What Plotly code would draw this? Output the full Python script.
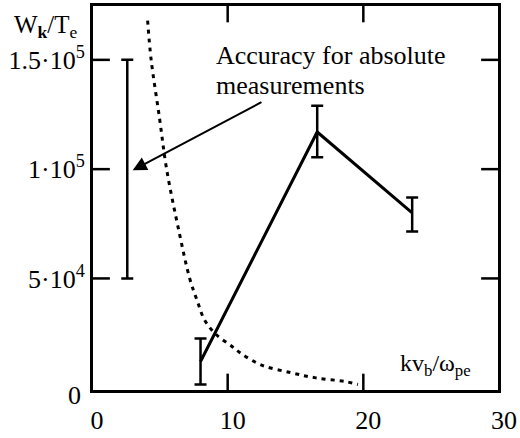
import plotly.graph_objects as go

# Measured points (kv_b/omega_pe, W_k/T_e) with error bars
meas_x = [8.0, 16.6, 23.6]
meas_y = [12000, 117000, 80000]
meas_err_plus = [10500, 12000, 7000]
meas_err_minus = [10500, 11500, 8500]

# Accuracy bar for absolute measurements
acc_x = [2.6]
acc_y = [100000]
acc_err = [50000]

# Dotted theoretical curve
curve_x = [4.1, 4.36, 4.97, 5.5, 6.44, 7.2, 7.75, 8.3, 9.13, 10.3, 11.0, 12.5, 14.7, 16.5, 18.65, 19.6]
curve_y = [168000, 150000, 123600, 100000, 70700, 50000, 39900, 31000, 24450, 19000, 15640, 10350, 6830, 4500, 2860, 1500]

x_ticks = [0, 10, 20, 30]
x_ticklabels = ["0", "10", "20", "30"]
y_ticks = [0, 50000, 100000, 150000]
y_ticklabels = ["", "5·10<sup>4</sup>", "1·10<sup>5</sup>", "1.5·10<sup>5</sup>"]
y_zero_label = "0"

X_RANGE = [0, 30]
Y_RANGE = [-1500, 175100]

FONT = "Liberation Serif"
W, H = 520, 438
M = dict(l=92, r=18, t=3, b=34)
TICK_PX = 18

plot_w = W - M["l"] - M["r"]
plot_h = H - M["t"] - M["b"]
dx = TICK_PX * (X_RANGE[1] - X_RANGE[0]) / plot_w
dy = TICK_PX * (Y_RANGE[1] - Y_RANGE[0]) / plot_h

fig = go.Figure()

fig.add_trace(go.Scatter(
    x=curve_x, y=curve_y, mode="lines", line_shape="spline",
    line=dict(color="black", width=3, dash="4px,5px"), hoverinfo="skip"))

fig.add_trace(go.Scatter(
    x=meas_x, y=meas_y, mode="lines",
    line=dict(color="black", width=3),
    error_y=dict(type="data", symmetric=False, array=meas_err_plus,
                 arrayminus=meas_err_minus, color="black", thickness=2.5, width=6)))

fig.add_trace(go.Scatter(
    x=acc_x, y=acc_y, mode="markers", marker=dict(size=1, color="rgba(0,0,0,0)"),
    error_y=dict(type="data", array=acc_err, color="black", thickness=2.5, width=6)))

# Frame and inside tick marks on all four sides, built from the axis ranges/ticks
fx = [X_RANGE[0], X_RANGE[1], X_RANGE[1], X_RANGE[0], X_RANGE[0]]
fy = [Y_RANGE[0], Y_RANGE[0], Y_RANGE[1], Y_RANGE[1], Y_RANGE[0]]
fig.add_trace(go.Scatter(x=fx, y=fy, mode="lines", line=dict(color="black", width=2),
                         cliponaxis=False, hoverinfo="skip"))
tx, ty = [], []
for xv in x_ticks:
    if X_RANGE[0] < xv < X_RANGE[1]:
        tx += [xv, xv, None, xv, xv, None]
        ty += [Y_RANGE[0], Y_RANGE[0] + dy, None, Y_RANGE[1], Y_RANGE[1] - dy, None]
for yv in y_ticks:
    if 0 < yv < Y_RANGE[1]:
        tx += [X_RANGE[0], X_RANGE[0] + dx, None, X_RANGE[1], X_RANGE[1] - dx, None]
        ty += [yv, yv, None, yv, yv, None]
fig.add_trace(go.Scatter(x=tx, y=ty, mode="lines", line=dict(color="black", width=2.5),
                         cliponaxis=False, hoverinfo="skip"))

# Arrow
fig.add_annotation(x=3.0, y=99500, ax=12.6, ay=131000, xref="x", yref="y",
                   axref="x", ayref="y", text="", showarrow=True,
                   arrowhead=2, arrowsize=1.4, arrowwidth=2, arrowcolor="black")
fig.add_annotation(x=9.0, y=152200, xref="x", yref="y", text="Accuracy for absolute",
                   showarrow=False, xanchor="left", yanchor="middle",
                   font=dict(family=FONT, size=26, color="black"))
fig.add_annotation(x=9.0, y=138100, xref="x", yref="y", text="measurements",
                   showarrow=False, xanchor="left", yanchor="middle",
                   font=dict(family=FONT, size=26, color="black"))
# Axis titles
fig.add_annotation(x=25.3, y=10300, xref="x", yref="y",
                   text="kv<sub>b</sub>/ω<sub>pe</sub>", showarrow=False,
                   font=dict(family=FONT, size=24, color="black"))
fig.add_annotation(x=(46 - 92) / 410, y=1 - (25 - 3) / 401, xref="paper", yref="paper",
                   text="W<sub><b>k</b></sub>/T<sub>e</sub>", showarrow=False,
                   xanchor="center", yanchor="middle",
                   font=dict(family=FONT, size=25, color="black"))
# Y zero label, sitting slightly low as in the original
fig.add_annotation(x=0, y=0, xref="paper", yref="y", text=y_zero_label,
                   showarrow=False, xanchor="right", yanchor="middle",
                   xshift=-9, yshift=-8,
                   font=dict(family=FONT, size=26, color="black"))

axis_common = dict(showline=True, linecolor="black", linewidth=2, mirror=True,
                   ticks="", showgrid=False, zeroline=False, layer="above traces",
                   tickfont=dict(family=FONT, size=26, color="black"))

fig.update_layout(
    width=W, height=H,
    margin=M,
    paper_bgcolor="white", plot_bgcolor="white",
    showlegend=False,
    dragmode=False,
    font=dict(family=FONT, color="black"),
    xaxis=dict(range=X_RANGE, tickvals=x_ticks, ticktext=x_ticklabels,
               ticklabelshift=5, ticklabelstandoff=5, fixedrange=True, **axis_common),
    yaxis=dict(range=Y_RANGE, tickvals=y_ticks, ticktext=y_ticklabels,
               fixedrange=True, **axis_common),
)

fig.write_html("out.html", config={"staticPlot": True})
